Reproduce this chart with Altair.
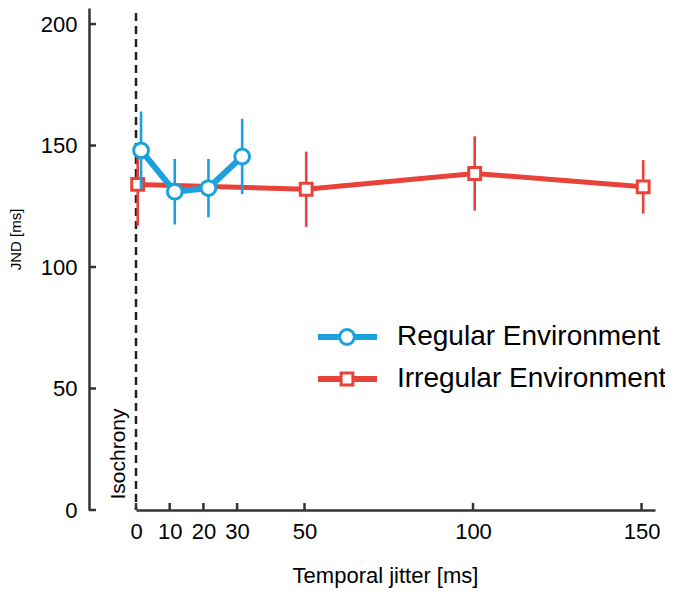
import altair as alt
import pandas as pd

# ---- data ----
series_names = ["Regular Environment", "Irregular Environment"]
series_colors = ["#1ba1de", "#e8433a"]

regular_x = [1.5, 11.5, 21.5, 31.5]
regular_jnd = [148, 131, 132.5, 145.5]
regular_err = [16, 13.5, 12, 15.5]

irregular_x = [0.5, 50.5, 100.5, 150.5]
irregular_jnd = [134, 132, 138.5, 133]
irregular_err = [17, 15.5, 15.3, 11]

x_ticks = [0, 10, 20, 30, 50, 100, 150]
y_ticks = [0, 50, 100, 150, 200]

FONT = "Liberation Sans"
AXIS_COL = "#333333"

def frame(xs, ys, errs, name):
    return pd.DataFrame({
        "x": xs, "y": ys,
        "lo": [a - b for a, b in zip(ys, errs)],
        "hi": [a + b for a, b in zip(ys, errs)],
        "series": name,
    })

reg = frame(regular_x, regular_jnd, regular_err, series_names[0])
irr = frame(irregular_x, irregular_jnd, irregular_err, series_names[1])

xscale = alt.Scale(domain=[0, 154], nice=False, zero=False)
yscale = alt.Scale(domain=[0, 206.6], nice=False)

xenc = alt.X("x:Q", scale=xscale, axis=alt.Axis(
    values=x_ticks, title="Temporal jitter [ms]", ticks=False, tickSize=0,
    labelPadding=11, labelFontSize=22, titleFontSize=22, titlePadding=23,
    titleFontWeight="normal", labelFont=FONT, titleFont=FONT, titleX=249,
    domainColor=AXIS_COL, domainWidth=2.5, labelColor="black", titleColor="black",
    grid=False, labelFlush=False))
yenc = alt.Y("y:Q", scale=yscale, axis=alt.Axis(
    values=y_ticks, title="JND [ms]", ticks=False, tickSize=0, offset=47,
    labelPadding=12, labelFontSize=22, titleFontSize=15, titlePadding=17,
    titleFontWeight="normal", labelFont=FONT, titleFont=FONT,
    domainColor=AXIS_COL, domainWidth=2.5, labelColor="black", titleColor="black",
    grid=False, titleY=231))

base_x = alt.X("x:Q", scale=xscale)
base_y = alt.Y("y:Q", scale=yscale)

# dashed isochrony line
iso = alt.Chart(pd.DataFrame({"x": [0]})).mark_rule(
    color="#222222", strokeWidth=2.5, strokeDash=[8, 5]
).encode(x=xenc, y=alt.value(-8), y2=alt.value(502))

iso_text = alt.Chart(pd.DataFrame({"t": ["Isochrony"]})).mark_text(
    angle=270, fontSize=21, font=FONT, color="black", align="center", baseline="middle"
).encode(x=alt.value(-17), y=alt.value(446), text="t:N")

# inward ticks
ytick_df = pd.DataFrame({"y": y_ticks})
yticks = alt.Chart(ytick_df).mark_rule(color=AXIS_COL, strokeWidth=2.5).encode(
    y=yenc, x=alt.value(-47), x2=alt.value(-40))
xtick_df = pd.DataFrame({"x": x_ticks})
xticks = alt.Chart(xtick_df).mark_rule(color=AXIS_COL, strokeWidth=2.5).encode(
    x=base_x, y=alt.value(502), y2=alt.value(495))

def series_layers(df, color, shape, size, lw):
    c = alt.Chart(df)
    err = c.mark_rule(color=color, strokeWidth=2.6).encode(
        x=base_x, y=alt.Y("lo:Q", scale=yscale), y2="hi:Q")
    line = c.mark_line(color=color, strokeWidth=lw).encode(x=base_x, y=base_y)
    pts = c.mark_point(shape=shape, size=size, filled=False, fill="white",
                       fillOpacity=1, color=color, strokeWidth=3, opacity=1).encode(
        x=base_x, y=base_y)
    return [err, line, pts]

red_layers = series_layers(irr, series_colors[1], "square", 140, 5)
blue_layers = series_layers(reg, series_colors[0], "circle", 220, 6)

# legend drawn manually
def legend_row(i, shape, size, ypix):
    d = pd.DataFrame({"name": [series_names[i]]})
    c = alt.Chart(d)
    ln = c.mark_rule(color=series_colors[i], strokeWidth=6).encode(
        x=alt.value(182), x2=alt.value(241), y=alt.value(ypix))
    pt = c.mark_point(shape=shape, size=size, filled=False, fill="white",
                      fillOpacity=1, color=series_colors[i], strokeWidth=3, opacity=1).encode(
        x=alt.value(211), y=alt.value(ypix))
    tx = c.mark_text(align="left", baseline="middle", fontSize=28, font=FONT,
                     color="black").encode(x=alt.value(261), y=alt.value(ypix), text="name:N")
    return [ln, pt, tx]

leg = legend_row(0, "circle", 220, 329) + legend_row(1, "square", 140, 371)

chart = alt.layer(
    iso, *red_layers, *blue_layers, yticks, xticks, iso_text, *leg
).properties(
    width=519, height=502,
    autosize=alt.AutoSizeParams(type="none"),
    padding={"left": 128, "top": 0, "right": 10, "bottom": 78},
).configure_view(stroke=None)

chart.save("out.html", embed_options={"renderer": "svg", "actions": False})
